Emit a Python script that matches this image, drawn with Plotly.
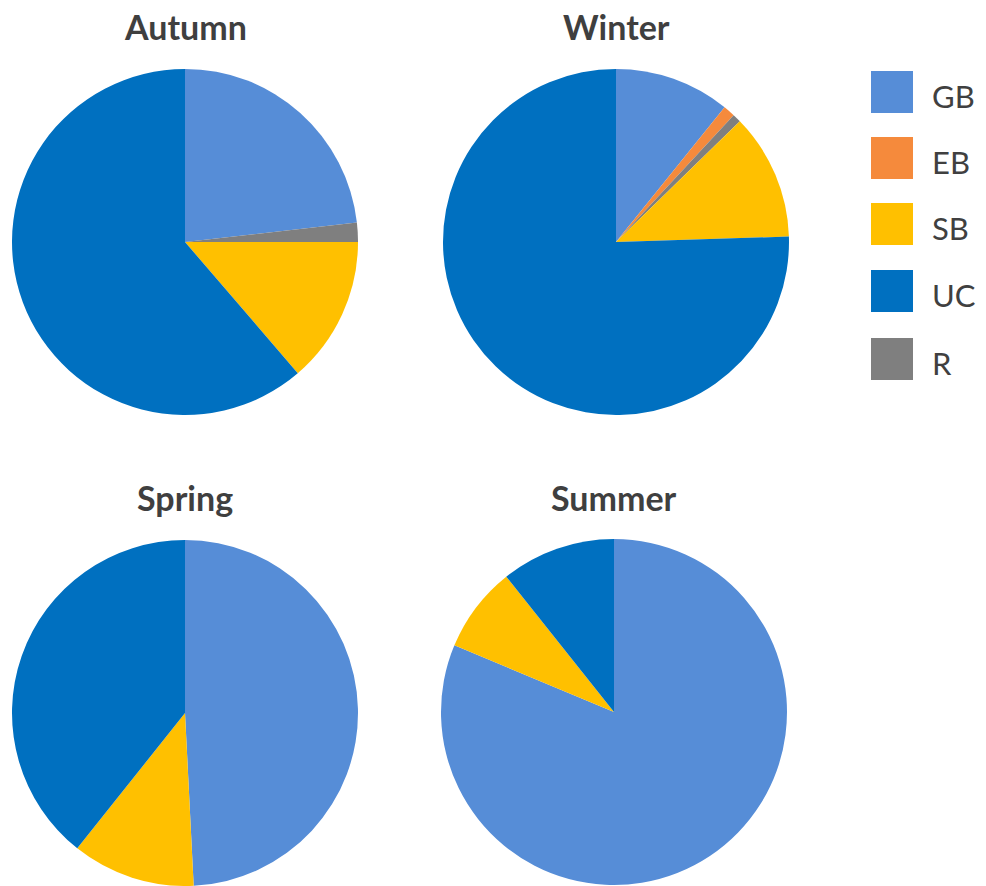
import plotly.graph_objects as go

W, H = 986, 886

# Slice order around each pie (clockwise from 12 o'clock)
slice_labels = ["GB", "EB", "R", "SB", "UC"]

# Share of each category (%) per season, in slice_labels order
autumn = [23.2, 0.0, 1.8, 13.7, 61.3]
winter = [10.8, 1.1, 0.8, 11.8, 75.5]
spring = [49.2, 0.0, 0.0, 11.5, 39.3]
summer = [81.3, 0.0, 0.0, 8.0, 10.7]

seasons = ["Autumn", "Winter", "Spring", "Summer"]
season_values = [autumn, winter, spring, summer]

# Legend order and colours
legend_labels = ["GB", "EB", "SB", "UC", "R"]
colors = {
    "GB": "#568DD7",
    "EB": "#F58A3C",
    "SB": "#FFC000",
    "UC": "#0070C0",
    "R": "#7F7F7F",
}

# Pie centres (px) and radius
centers = [(185, 242), (616, 242), (185, 713), (614, 712)]
radius = 173
title_y = [27, 27, 497, 497]


def px_x(x):
    return x / W


def px_y(y):
    return 1 - y / H


fig = go.Figure()

for name, vals, (cx, cy) in zip(seasons, season_values, centers):
    fig.add_trace(go.Pie(
        labels=slice_labels,
        values=vals,
        name=name,
        sort=False,
        direction="clockwise",
        rotation=0,
        textinfo="none",
        hoverinfo="label+percent",
        marker=dict(colors=[colors[l] for l in slice_labels], line=dict(width=0)),
        domain=dict(
            x=[px_x(cx - radius), px_x(cx + radius)],
            y=[px_y(cy + radius), px_y(cy - radius)],
        ),
        showlegend=False,
    ))

annotations = []
for name, (cx, _), ty in zip(seasons, centers, title_y):
    annotations.append(dict(
        text=name, x=px_x(cx), y=px_y(ty), xref="paper", yref="paper",
        xanchor="center", yanchor="middle", showarrow=False,
        font=dict(family="Lato", size=34, color="#3F3F3F", weight="bold"),
    ))

# Legend drawn as large swatches with labels
shapes = []
sw = 42
leg_x0 = 871
leg_cy = [92, 158, 224, 291, 359]
for lab, yc in zip(legend_labels, leg_cy):
    shapes.append(dict(
        type="rect", xref="paper", yref="paper",
        x0=px_x(leg_x0), x1=px_x(leg_x0 + sw),
        y0=px_y(yc + sw / 2), y1=px_y(yc - sw / 2),
        fillcolor=colors[lab], line=dict(width=0),
    ))
    annotations.append(dict(
        text=lab, x=px_x(930), y=px_y(yc + 4), xref="paper", yref="paper",
        xanchor="left", yanchor="middle", showarrow=False,
        font=dict(family="Lato", size=31, color="#404040"),
    ))

fig.update_layout(
    width=W, height=H,
    margin=dict(l=0, r=0, t=0, b=0),
    paper_bgcolor="white",
    plot_bgcolor="white",
    showlegend=False,
    annotations=annotations,
    shapes=shapes,
)

fig.write_html("out.html")
